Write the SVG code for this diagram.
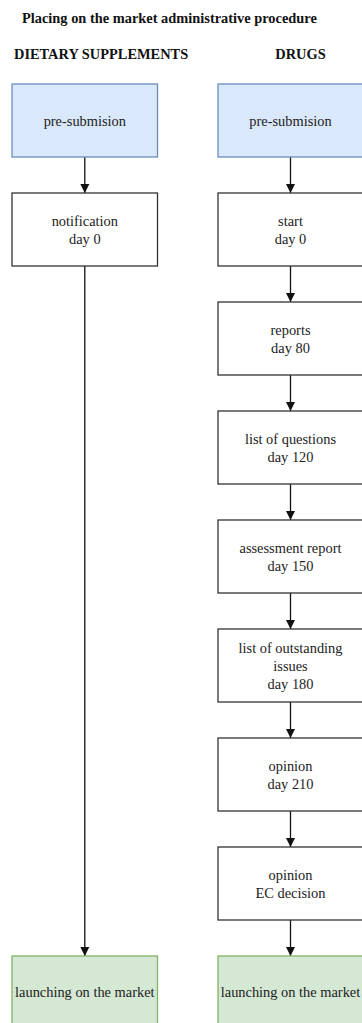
<svg xmlns="http://www.w3.org/2000/svg" width="362" height="1023" viewBox="0 0 362 1023">
<style>
text{font-family:"Liberation Serif","Times New Roman",serif;font-size:14.4px;fill:#222}
.h{font-weight:bold;fill:#111}
.c{text-anchor:middle}
.box{fill:#fff;stroke:#333;stroke-width:1.3}
.blue{fill:#dae8fc;stroke:#6c8ebf;stroke-width:1.3}
.green{fill:#d5e8d4;stroke:#82b366;stroke-width:1.3}
.ln{stroke:#111;stroke-width:1.3;fill:none;marker-end:url(#ah)}
</style>
<defs>
<marker id="ah" markerWidth="10" markerHeight="10" refX="9" refY="5" orient="auto" markerUnits="userSpaceOnUse">
<path d="M0,0.5 L9,5 L0,9.5 Z" fill="#111"/>
</marker>
</defs>
<rect width="362" height="1023" fill="#fff"/>
<text class="h" x="22" y="23">Placing on the market administrative procedure</text>
<text class="h" x="14" y="59">DIETARY SUPPLEMENTS</text>
<text class="h c" x="300.5" y="59">DRUGS</text>
<g id="connectors">
<line class="ln" x1="84.8" y1="157" x2="84.8" y2="193"/>
<line class="ln" x1="84.8" y1="266" x2="84.8" y2="956"/>
<line class="ln" x1="290.5" y1="157" x2="290.5" y2="193"/>
<line class="ln" x1="290.5" y1="266" x2="290.5" y2="302"/>
<line class="ln" x1="290.5" y1="375" x2="290.5" y2="411"/>
<line class="ln" x1="290.5" y1="484" x2="290.5" y2="520"/>
<line class="ln" x1="290.5" y1="593" x2="290.5" y2="629"/>
<line class="ln" x1="290.5" y1="702" x2="290.5" y2="738"/>
<line class="ln" x1="290.5" y1="811" x2="290.5" y2="847"/>
<line class="ln" x1="290.5" y1="920" x2="290.5" y2="956"/>
</g>
<g id="ds-pre"><rect class="blue" x="12" y="84" width="145.5" height="73"/><text class="c" x="84.8" y="125.5">pre-submision</text></g>
<g id="ds-notif"><rect class="box" x="12" y="193" width="145.5" height="73"/><text class="c" x="84.8" y="226">notification</text><text class="c" x="84.8" y="244">day 0</text></g>
<g id="ds-launch"><rect class="green" x="12" y="956" width="145.5" height="73"/><text class="c" x="84.8" y="997">launching on the market</text></g>
<g id="d-pre"><rect class="blue" x="218" y="84" width="145" height="73"/><text class="c" x="290.5" y="125.5">pre-submision</text></g>
<g id="d-start"><rect class="box" x="218" y="193" width="145" height="73"/><text class="c" x="290.5" y="226">start</text><text class="c" x="290.5" y="244">day 0</text></g>
<g id="d-reports"><rect class="box" x="218" y="302" width="145" height="73"/><text class="c" x="290.5" y="335">reports</text><text class="c" x="290.5" y="353">day 80</text></g>
<g id="d-loq"><rect class="box" x="218" y="411" width="145" height="73"/><text class="c" x="290.5" y="444">list of questions</text><text class="c" x="290.5" y="462">day 120</text></g>
<g id="d-assess"><rect class="box" x="218" y="520" width="145" height="73"/><text class="c" x="290.5" y="553">assessment report</text><text class="c" x="290.5" y="571">day 150</text></g>
<g id="d-loi"><rect class="box" x="218" y="629" width="145" height="73"/><text class="c" x="290.5" y="653">list of outstanding</text><text class="c" x="290.5" y="671">issues</text><text class="c" x="290.5" y="689">day 180</text></g>
<g id="d-op210"><rect class="box" x="218" y="738" width="145" height="73"/><text class="c" x="290.5" y="771">opinion</text><text class="c" x="290.5" y="789">day 210</text></g>
<g id="d-opec"><rect class="box" x="218" y="847" width="145" height="73"/><text class="c" x="290.5" y="880">opinion</text><text class="c" x="290.5" y="898">EC decision</text></g>
<g id="d-launch"><rect class="green" x="218" y="956" width="145" height="73"/><text class="c" x="290.5" y="997">launching on the market</text></g>
</svg>
